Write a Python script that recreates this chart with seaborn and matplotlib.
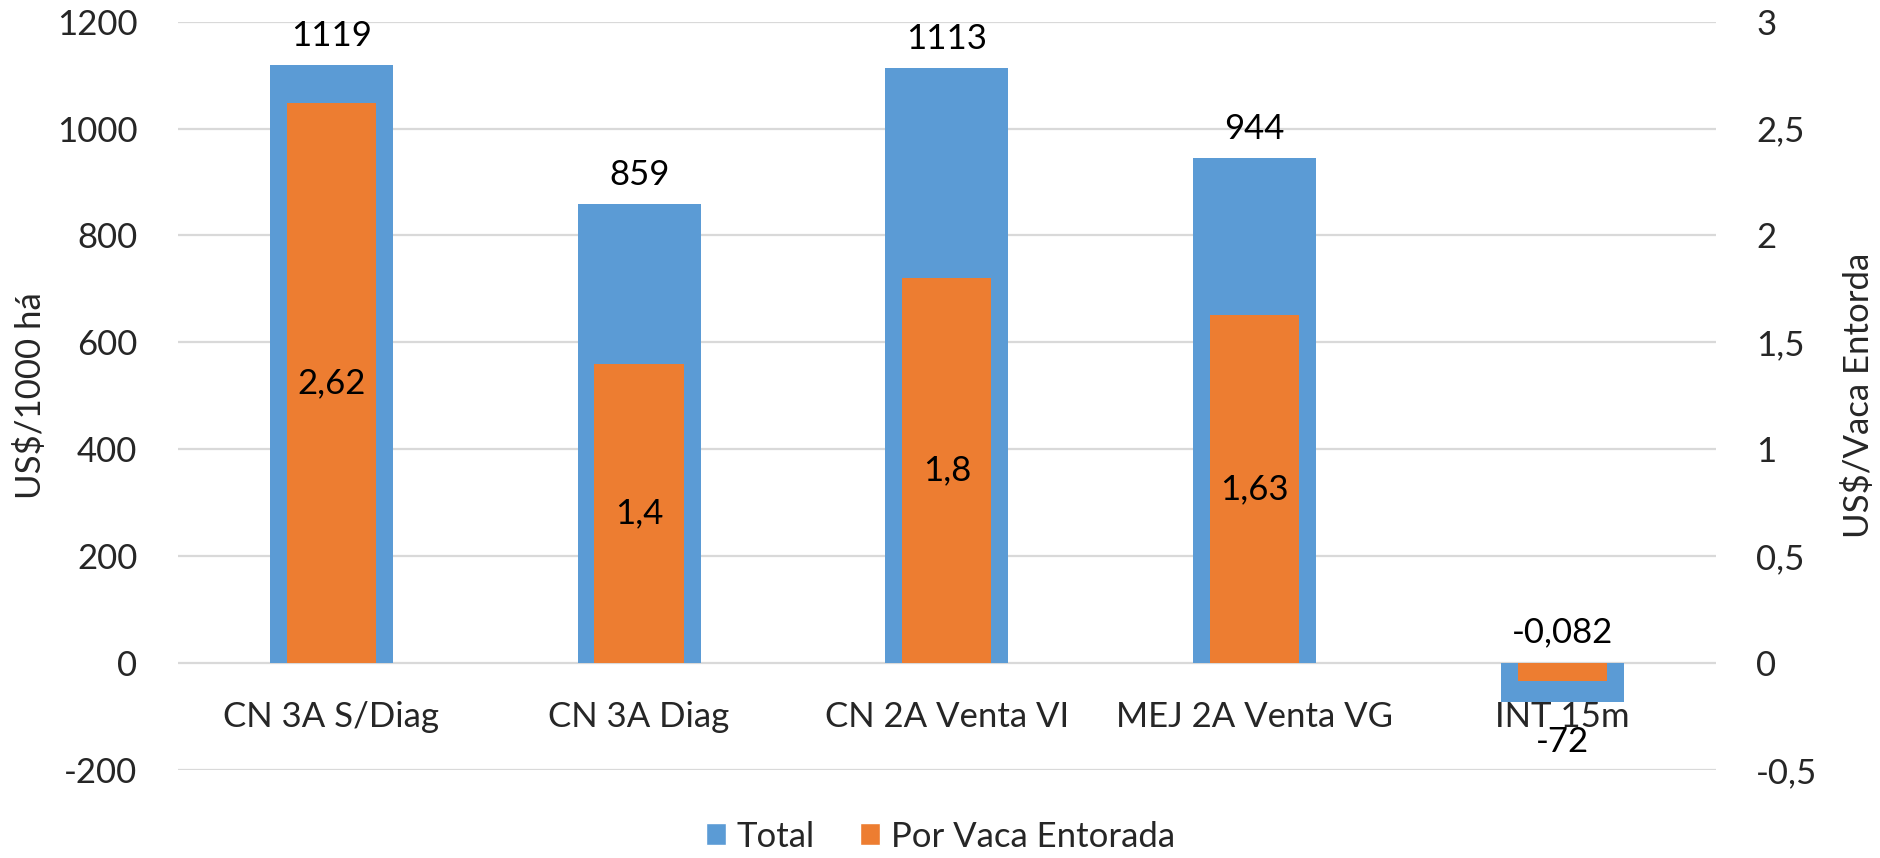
import matplotlib
matplotlib.use("Agg")
import matplotlib.pyplot as plt
from matplotlib.patches import Patch
import seaborn as sns
import pandas as pd

categories = ["CN 3A S/Diag", "CN 3A Diag", "CN 2A Venta VI", "MEJ 2A Venta VG", "INT 15m"]
total = [1119, 859, 1113, 944, -72]
por_vaca = [2.62, 1.4, 1.8, 1.63, -0.082]
left_ticks = [-200, 0, 200, 400, 600, 800, 1000, 1200]
right_ticks = [-0.5, 0, 0.5, 1, 1.5, 2, 2.5, 3]
right_tick_labels = ["-0,5", "0", "0,5", "1", "1,5", "2", "2,5", "3"]

BLUE = "#5B9BD5"
ORANGE = "#ED7D31"
FS = 25

sns.set_theme(style="white")
plt.rcParams["font.family"] = ["Lato", "DejaVu Sans"]

df = pd.DataFrame({"cat": categories, "total": total, "vaca": por_vaca})

fig = plt.figure(figsize=(18.81, 8.58), dpi=100)
ax = fig.add_axes([0.0944, 0.1026, 0.8179, 0.8722])
ax2 = ax.twinx()

sns.barplot(data=df, x="cat", y="total", color=BLUE, saturation=1, width=0.4,
            linewidth=0, edgecolor="none", ax=ax)
sns.barplot(data=df, x="cat", y="vaca", color=ORANGE, saturation=1, width=0.29,
            linewidth=0, edgecolor="none", ax=ax2)

ax.set_xlim(-0.5, len(categories) - 0.5)
ax.set_ylim(-200, 1200)
ax2.set_ylim(-0.5, 3)
ax.set_yticks(left_ticks)
ax.set_yticklabels([str(t) for t in left_ticks])
ax2.set_yticks(right_ticks)
ax2.set_yticklabels(right_tick_labels)

ax.set_axisbelow(True)
ax.yaxis.grid(True, color="#d9d9d9", linewidth=1.6)
ax.xaxis.grid(False)
ax2.grid(False)
for a in (ax, ax2):
    for s in a.spines.values():
        s.set_visible(False)

ax.spines["bottom"].set_position(("data", 0))
ax.tick_params(axis="x", length=0, pad=27, labelsize=FS)
ax.tick_params(axis="y", length=0, pad=29, labelsize=FS)
ax2.tick_params(axis="y", length=0, pad=29, labelsize=FS)
ax2.tick_params(axis="x", bottom=False, labelbottom=False)
ax.set_xlabel("")
ax2.set_xlabel("")

ax.set_ylabel("US$/1000 há", fontsize=FS)
ax2.set_ylabel("US$/Vaca Entorda", fontsize=FS)
ax.yaxis.set_label_coords(-0.085, 0.5)
ax2.yaxis.set_label_coords(1.082, 0.5)

# data labels
for i, v in enumerate(total):
    off = 21 if v >= 0 else -29
    ax.annotate(str(v), xy=(i, v), xytext=(0, off), textcoords="offset points",
                ha="center", va="center", fontsize=FS, color="black")
for i, v in enumerate(por_vaca):
    txt = str(v).replace(".", ",")
    if v >= 0:
        ax2.text(i, v / 2, txt, ha="center", va="center", fontsize=FS, color="black")
    else:
        ax2.annotate(txt, xy=(i, 0), xytext=(0, 22), textcoords="offset points",
                     ha="center", va="center", fontsize=FS, color="black")

handles = [Patch(facecolor=BLUE, label="Total"), Patch(facecolor=ORANGE, label="Por Vaca Entorada")]
fig.legend(handles=handles, loc="center", bbox_to_anchor=(0.5, 0.025), ncol=2, frameon=False,
           fontsize=FS, handlelength=0.58, handleheight=0.58, handletextpad=0.3, columnspacing=1.3)

fig.savefig("out.png", dpi=100)
